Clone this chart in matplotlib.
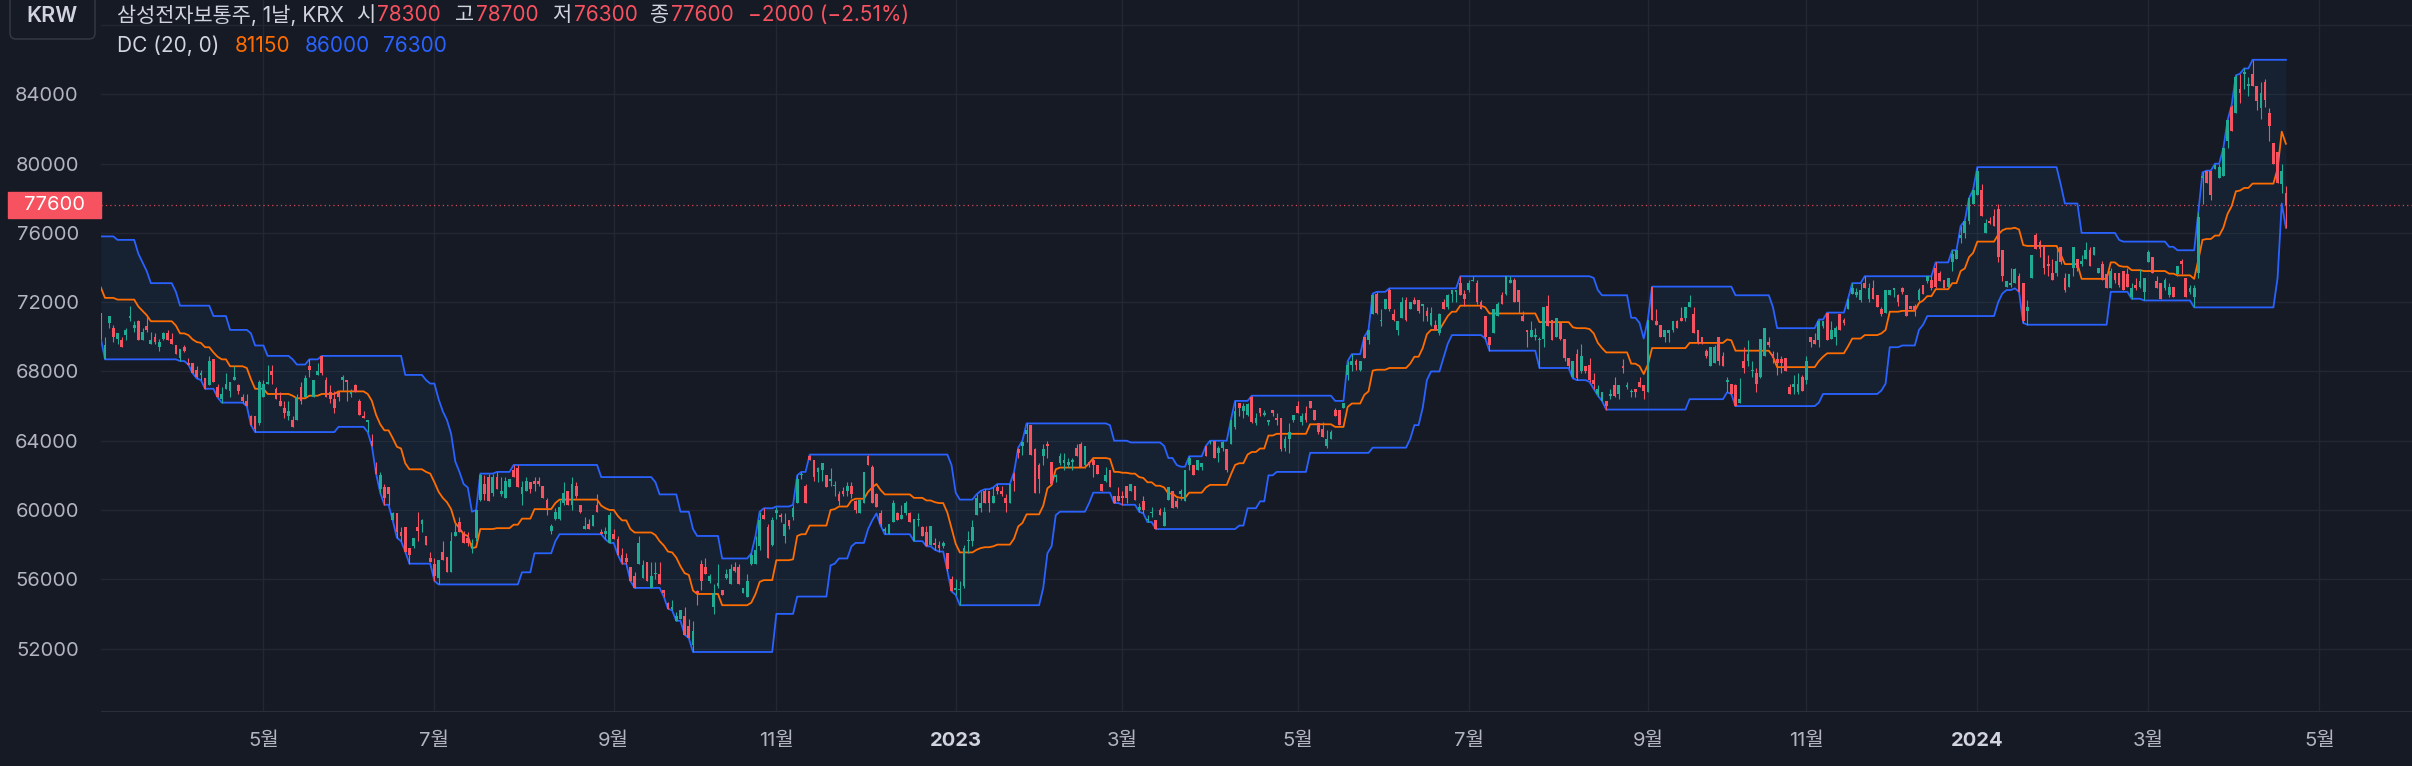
import numpy as np
import pandas as pd
import matplotlib.pyplot as plt
from matplotlib.patches import FancyBboxPatch, Rectangle
from matplotlib.transforms import IdentityTransform, blended_transform_factory

# 삼성전자 일봉 (KRX) — 앞 20개는 화면 밖 (DC 계산용)
N_PRE = 20

krx_holidays = ['2022-03-01', '2022-03-09', '2022-05-05', '2022-06-01', '2022-06-06',
                '2022-08-15', '2022-09-09', '2022-09-12', '2022-10-03', '2022-10-10',
                '2022-12-30', '2023-01-23', '2023-01-24', '2023-03-01', '2023-05-01',
                '2023-05-05', '2023-05-29', '2023-06-06', '2023-08-15', '2023-09-28',
                '2023-09-29', '2023-10-02', '2023-10-03', '2023-10-09', '2023-12-25',
                '2023-12-29', '2024-01-01', '2024-02-09', '2024-02-12', '2024-03-01',
                '2024-04-10', '2024-05-01', '2024-05-06', '2024-05-15']

open_ = [
    73100, 73100, 74300, 75300, 75000, 74200, 73300, 74000, 74900, 74200,
    74000, 73300, 73000, 72300, 72000, 71500, 72300, 72700, 72000, 71400,
    68700, 70800, 70500, 69900, 69800, 70100, 71100, 70500, 70900, 69800,
    70600, 69600, 70000, 69400, 69900, 70200, 69900, 69500, 68800, 69400,
    68500, 68500, 68100, 67800, 67600, 67200, 68700, 67100, 66400, 67000,
    66900, 67500, 67200, 66500, 66300, 65400, 65400, 65000, 66500, 67300,
    68000, 67000, 66300, 65900, 65400, 65200, 65200, 67100, 66500, 68300,
    66500, 67800, 68900, 67500, 66800, 66400, 66800, 67500, 67500, 66700,
    67200, 66300, 65400, 65100, 64000, 62400, 61200, 61300, 61300, 59400,
    59800, 58700, 59000, 57800, 57900, 59000, 59200, 58500, 57200, 56900,
    56100, 57600, 57300, 56400, 58500, 59300, 58600, 58400, 57900, 58400,
    60600, 61500, 61900, 61000, 61900, 60900, 60700, 61300, 62300, 62400,
    60900, 61100, 61600, 61700, 61700, 61400, 60600, 58800, 59500, 59500,
    60400, 61100, 60300, 61400, 60300, 58900, 59200, 59100, 60300, 58700,
    58600, 58100, 58600, 58300, 57400, 57200, 56700, 56200, 56900, 56100,
    57000, 55500, 56300, 56300, 55400, 54600, 54300, 53600, 53700, 53900,
    53300, 52200, 55300, 56900, 56700, 55900, 54400, 55600, 55400, 56100,
    55700, 56700, 56700, 55200, 55000, 56900, 56900, 57900, 59700, 59000,
    58000, 59800, 59700, 58500, 59400, 59600, 60400, 62000, 61400, 63100,
    62900, 62200, 62300, 62000, 61700, 61400, 60900, 61100, 61100, 61400,
    60500, 59800, 60400, 63100, 62500, 60900, 59800, 58800, 58600, 59300,
    59800, 59500, 59800, 59800, 58200, 59400, 59000, 58700, 58000, 58100,
    58000, 57900, 57500, 56000, 55400, 55400, 55600, 58200, 58200, 59700,
    60100, 61100, 61100, 60400, 61300, 61100, 60700, 60400, 62100, 63500,
    63700, 64400, 64900, 63500, 62600, 63100, 63800, 62800, 61900, 62700,
    62700, 62600, 62800, 63600, 63800, 62600, 62800, 62900, 62600, 61500,
    61700, 62300, 60800, 60800, 60800, 61400, 61100, 61400, 60000, 60500,
    59400, 59800, 59400, 60000, 59100, 60600, 61100, 60500, 60900, 60500,
    62600, 62600, 62300, 62500, 63700, 63900, 64000, 63300, 63600, 63500,
    63800, 64800, 66200, 65700, 65500, 66500, 65000, 65900, 65500, 65100,
    65800, 65300, 65300, 63600, 64100, 65200, 66000, 65100, 65600, 66300,
    65800, 65000, 64700, 63700, 64100, 65800, 65800, 65900, 67800, 68400,
    68600, 68100, 70000, 69800, 71300, 72500, 70900, 71600, 72700, 71300,
    70400, 71100, 72100, 71600, 72100, 72100, 71800, 71500, 70700, 70700,
    70200, 72000, 71700, 72500, 72600, 73100, 72500, 72700, 73200, 73100,
    72000, 71200, 70000, 70200, 71200, 72400, 72500, 73100, 73300, 72700,
    71200, 70400, 70000, 70000, 69800, 69900, 71800, 71000, 70000, 70800,
    69900, 68800, 67700, 69000, 68000, 68300, 68400, 67500, 66700, 66300,
    66300, 66600, 67200, 66700, 68300, 67100, 66800, 67000, 67400, 67200,
    66800, 72900, 70900, 70700, 70000, 70200, 70400, 70900, 71100, 71100,
    71700, 71300, 70400, 70000, 69200, 68300, 68500, 70000, 68900, 67400,
    67300, 67200, 66200, 68600, 68600, 68000, 67900, 67700, 68900, 69700,
    69000, 68700, 68700, 68800, 67100, 67100, 66800, 67700, 67500, 70000,
    69800, 69800, 70600, 71400, 69900, 70000, 71300, 71000, 71600, 72500,
    72400, 72100, 73100, 72200, 72800, 72400, 71600, 71400, 72400, 72700,
    72400, 72800, 72400, 71800, 71800, 72100, 73000, 73200, 73300, 74000,
    73700, 73300, 72900, 74300, 74500, 75700, 76000, 76700, 77700, 78200,
    78500, 76000, 76700, 77000, 77400, 75000, 72900, 73000, 73100, 73500,
    73100, 71500, 73400, 75900, 75500, 75300, 74200, 73700, 73700, 75200,
    73400, 72900, 74000, 74500, 74200, 74500, 75000, 74700, 73700, 74200,
    73600, 72800, 73700, 73700, 73800, 73600, 72300, 73000, 72900, 72600,
    74300, 74600, 73200, 73100, 72800, 72400, 72900, 73600, 74400, 73400,
    72600, 72300, 73700, 79200, 79600, 79600, 79700, 79200, 79300, 81300,
    83300, 82900, 84300, 85200, 84500, 85200, 84500, 83200, 84700, 82900,
    81200, 80700, 78800, 78300,
]
high = [
    74000, 74500, 75500, 75800, 75500, 74200, 73900, 74600, 75600, 74800,
    74300, 73800, 73000, 72800, 72900, 72500, 72900, 73100, 72600, 71400,
    70000, 71200, 70700, 70200, 70000, 70500, 71800, 70900, 71000, 70500,
    71200, 70300, 70200, 69900, 70300, 70400, 70200, 69500, 69300, 69500,
    68800, 68500, 68300, 68100, 67600, 68900, 68700, 67300, 67100, 67900,
    67400, 68300, 67300, 66700, 66700, 65500, 65400, 67500, 67500, 68400,
    68400, 67100, 66800, 66300, 66300, 65400, 66700, 67400, 67800, 68700,
    67500, 68500, 68900, 67700, 67200, 66900, 66900, 67800, 67500, 67000,
    67300, 66400, 65700, 65200, 64400, 62800, 62200, 61500, 61300, 59900,
    59800, 59000, 59000, 57800, 58400, 59900, 59500, 58500, 57600, 57200,
    57100, 58200, 57300, 58700, 59300, 59600, 58800, 58700, 58300, 60000,
    62100, 62000, 62100, 62100, 62200, 61900, 61900, 61800, 62600, 62600,
    61700, 61900, 61600, 61900, 61900, 61400, 60700, 59200, 60100, 60600,
    61600, 61100, 61900, 61600, 60300, 59600, 59500, 59700, 60900, 58900,
    59000, 59900, 58900, 58500, 57800, 57500, 56700, 56400, 58500, 57100,
    57000, 57000, 57000, 57000, 55400, 54700, 54800, 54100, 54200, 54400,
    53700, 53600, 55400, 57100, 57200, 56300, 55700, 56900, 55400, 56600,
    56900, 57000, 56900, 55500, 56300, 57500, 58500, 59900, 60100, 59200,
    59600, 60200, 59800, 59800, 59400, 60300, 62000, 62200, 61500, 63200,
    62900, 62500, 62700, 62000, 62400, 61700, 61100, 61300, 61600, 61600,
    60600, 60600, 62200, 63200, 62600, 61000, 60000, 59000, 59200, 60600,
    59900, 60300, 60500, 59900, 59500, 59800, 59100, 59100, 59100, 58400,
    58200, 58200, 57500, 56200, 56000, 55900, 58000, 58800, 59400, 60900,
    61100, 61200, 61100, 61300, 61500, 61400, 60900, 61500, 62200, 63600,
    64000, 65000, 64900, 63600, 62700, 63800, 64000, 62800, 62100, 63300,
    63300, 63000, 63000, 63800, 63900, 63700, 62800, 63000, 62600, 61500,
    62500, 62300, 60800, 61300, 61100, 61400, 61500, 61400, 60400, 60800,
    59700, 60200, 59400, 60100, 60200, 61300, 61100, 60700, 61200, 62300,
    63100, 62600, 62900, 62700, 63700, 64000, 64000, 63700, 64000, 63500,
    65200, 66300, 66200, 66200, 66200, 66600, 65600, 65900, 65800, 65200,
    65800, 65600, 65300, 64300, 65000, 65500, 66300, 65600, 66000, 66300,
    65800, 65000, 65100, 64600, 64600, 65900, 65800, 66200, 68600, 69000,
    68700, 68600, 70000, 70400, 72500, 72600, 71600, 72200, 72800, 71600,
    70900, 72300, 72300, 72000, 72300, 72100, 71900, 71700, 71700, 71000,
    71400, 72200, 72500, 72700, 72700, 73500, 72700, 73300, 73500, 73300,
    72100, 71200, 70000, 71600, 72000, 72600, 73500, 73500, 73400, 72700,
    71500, 70400, 70900, 70500, 70000, 71700, 72400, 71000, 71100, 70800,
    69900, 68800, 68600, 69300, 69600, 68300, 68800, 67900, 67200, 66800,
    66300, 67000, 67700, 67200, 68700, 67400, 67000, 67000, 67700, 67200,
    71000, 72900, 71600, 70700, 70400, 70400, 70900, 71000, 71700, 71700,
    72400, 71700, 70400, 70000, 69300, 69400, 69500, 70000, 69100, 67700,
    67300, 67300, 67600, 69400, 69800, 68600, 68200, 69900, 70500, 70000,
    69200, 69100, 68900, 68800, 67300, 67800, 67900, 67800, 68900, 70000,
    70200, 71000, 70900, 71400, 70900, 70600, 71300, 71100, 72200, 73100,
    72800, 73100, 73500, 73100, 73300, 72400, 71700, 72700, 72700, 72800,
    72500, 72900, 72400, 71800, 71900, 72800, 73000, 73500, 73500, 74300,
    73800, 73300, 73400, 75000, 75000, 76400, 76700, 78000, 78500, 79800,
    78800, 76800, 76900, 77400, 77700, 75000, 73200, 74000, 74000, 73700,
    73100, 72100, 74700, 76000, 75600, 75300, 74700, 74500, 75100, 75200,
    73700, 73600, 75200, 74500, 74700, 75500, 75200, 75200, 74000, 74400,
    73600, 74000, 73700, 73700, 73800, 74000, 73100, 73400, 73900, 73400,
    75000, 74600, 73500, 73100, 73400, 73100, 72900, 74100, 74500, 73400,
    73000, 73000, 77200, 79500, 79600, 79600, 80000, 80000, 80900, 82500,
    83400, 85100, 85200, 85500, 85000, 86000, 84500, 84700, 84900, 83200,
    81200, 80700, 80000, 78700,
]
low = [
    72700, 72800, 74000, 74800, 74600, 73000, 73000, 73700, 74000, 73900,
    73300, 72900, 72200, 71200, 71600, 71200, 72000, 72000, 71700, 69900,
    68700, 70500, 69700, 69600, 69400, 69800, 70900, 70300, 69800, 69800,
    70300, 69600, 69600, 69200, 69800, 69800, 69600, 69000, 68600, 69100,
    68400, 67900, 67600, 67500, 67000, 67200, 67400, 66500, 66200, 67000,
    66500, 67500, 66700, 66200, 66000, 64900, 64500, 64900, 66500, 67300,
    67300, 66400, 66000, 65300, 65200, 64800, 65200, 66100, 66500, 67700,
    66500, 67800, 67800, 66500, 66200, 65600, 66300, 66900, 66300, 66500,
    66800, 65500, 65300, 64500, 63700, 62100, 61000, 60300, 60300, 59400,
    58400, 58200, 57600, 56900, 57800, 58200, 58700, 58000, 57000, 55900,
    55700, 57100, 56400, 56400, 58500, 58700, 58100, 57900, 57500, 58200,
    60500, 60600, 60500, 60800, 61200, 60800, 60700, 61300, 61900, 61300,
    60300, 61100, 61000, 61100, 61400, 60700, 59700, 58600, 59400, 59400,
    60300, 60300, 60000, 60700, 59800, 58900, 58900, 59100, 59900, 58600,
    58300, 58100, 58300, 57400, 56900, 56900, 55900, 55500, 56900, 56100,
    55900, 55500, 56000, 55700, 55000, 54300, 54200, 53600, 53700, 52800,
    52600, 51800, 54500, 55400, 56300, 55800, 54000, 55500, 55100, 56000,
    55700, 56400, 55700, 55200, 55000, 56800, 56900, 57700, 59500, 57200,
    57900, 59500, 59300, 58100, 58900, 59400, 60400, 61800, 60400, 62900,
    61700, 61600, 61700, 61300, 61400, 60800, 60300, 60800, 60800, 60700,
    59800, 59800, 60400, 62600, 60400, 60200, 59100, 58600, 58600, 59300,
    59400, 59500, 59700, 59300, 58200, 59100, 58500, 57900, 58000, 57700,
    57600, 57800, 56500, 55300, 55100, 54500, 55500, 57500, 57900, 59700,
    59900, 60400, 59900, 60400, 60900, 60800, 59900, 60400, 61100, 63000,
    63200, 63900, 63200, 61000, 61000, 62600, 63000, 61500, 61600, 62600,
    62300, 62500, 62300, 63100, 62500, 62400, 62500, 61900, 62100, 61100,
    61600, 61300, 60400, 60500, 60300, 60400, 61100, 60600, 59900, 59800,
    59300, 59600, 58900, 59700, 59100, 60600, 60100, 60100, 60600, 60500,
    62300, 62000, 62300, 62300, 63100, 63800, 63000, 62800, 63400, 62200,
    63800, 64700, 65400, 65300, 65400, 65000, 64900, 65400, 65400, 64900,
    65400, 64900, 63400, 63400, 63300, 65100, 65600, 64900, 65100, 65900,
    65200, 64400, 64200, 63600, 64100, 65400, 64900, 65900, 67500, 68000,
    68100, 68000, 68800, 69600, 71300, 71300, 70600, 71600, 71500, 70900,
    70100, 71100, 70900, 71600, 71900, 71400, 70900, 70900, 70600, 70400,
    70100, 71600, 71600, 72000, 72000, 72400, 71800, 72600, 73200, 71900,
    71600, 69900, 69200, 70200, 71200, 71900, 72400, 73100, 72000, 71400,
    70900, 69400, 70000, 69800, 68200, 69400, 70600, 69800, 70000, 69800,
    68600, 68200, 67600, 67500, 67900, 67900, 67400, 67000, 66600, 66300,
    65800, 66400, 66500, 66400, 67900, 67000, 66500, 66500, 67100, 66400,
    66800, 71000, 70700, 70000, 69700, 69700, 70300, 70500, 70900, 70900,
    71700, 70200, 69600, 69600, 68800, 68300, 68500, 68400, 68300, 66800,
    66700, 66000, 66200, 67900, 68300, 67700, 66800, 67600, 68900, 69400,
    68500, 67800, 67900, 68000, 66700, 66700, 66700, 66900, 67300, 69400,
    69600, 69400, 70500, 69800, 69900, 69500, 70400, 70700, 71600, 72500,
    72300, 72000, 72800, 72000, 72200, 71700, 71200, 71400, 72400, 72300,
    71800, 72500, 71200, 71600, 71200, 72000, 72500, 73100, 72700, 72800,
    73200, 72800, 72900, 73800, 74500, 75400, 75700, 76500, 77700, 78200,
    77000, 76000, 76500, 76400, 74300, 73200, 72900, 72900, 73100, 72600,
    70800, 70700, 73400, 75100, 74600, 73600, 73500, 73300, 73500, 74200,
    72600, 72900, 73500, 73800, 74100, 74500, 74100, 74700, 73700, 73300,
    72800, 72800, 73100, 72900, 72700, 72900, 72200, 72700, 72800, 72100,
    74300, 73700, 72800, 72200, 72700, 72300, 72300, 73500, 73600, 72300,
    72500, 71700, 73400, 77700, 78900, 77900, 79700, 79200, 79300, 80900,
    81900, 82900, 83500, 84300, 83900, 84500, 83100, 82600, 83300, 81300,
    80000, 78900, 78300, 76300,
]
close = [
    73000, 74300, 75100, 75500, 74900, 73100, 73700, 74000, 74200, 74300,
    74000, 73000, 72600, 71500, 71800, 72100, 72200, 72500, 72100, 70600,
    69500, 71200, 70000, 70200, 69400, 70400, 71200, 70700, 69800, 70300,
    70400, 69800, 69700, 69700, 70200, 69800, 69600, 69000, 69300, 69200,
    68400, 67900, 67700, 67900, 67000, 68600, 67400, 66500, 66700, 67300,
    67400, 67700, 66900, 66300, 66000, 64900, 64700, 67400, 67300, 67400,
    67800, 66400, 66000, 65600, 65700, 64800, 66500, 66300, 67600, 68100,
    67500, 68000, 67900, 66500, 66400, 65900, 66500, 67700, 67400, 66800,
    66800, 65500, 65300, 65200, 63700, 62100, 62000, 60700, 60900, 59800,
    58700, 58500, 57600, 57400, 58400, 58800, 59400, 58000, 57000, 56200,
    57100, 57100, 56400, 58200, 58700, 58700, 58100, 58100, 58100, 60000,
    62000, 60900, 60500, 61900, 61200, 61100, 61700, 61800, 61900, 61300,
    61300, 61700, 61200, 61500, 61500, 60700, 60100, 59100, 59900, 60200,
    61000, 60300, 61500, 60800, 59900, 59100, 58900, 59700, 59900, 58600,
    58800, 59700, 58300, 57400, 57000, 57000, 55900, 55500, 58100, 56800,
    55900, 56200, 56300, 55700, 55200, 54300, 54400, 53900, 54200, 52800,
    52600, 53000, 55200, 55900, 56300, 56200, 55200, 55800, 55100, 56300,
    56600, 56500, 55700, 55500, 55900, 57400, 57700, 59400, 59500, 57200,
    59400, 60000, 59600, 59200, 59100, 60100, 61800, 62000, 60400, 62900,
    61900, 62400, 62700, 61300, 61800, 61400, 60500, 60900, 61400, 60900,
    60000, 60600, 62200, 62600, 60400, 60200, 59200, 58900, 59200, 60400,
    59400, 59700, 60400, 59300, 59500, 59500, 58500, 57900, 59100, 58000,
    57800, 58100, 56600, 55300, 55500, 55400, 57800, 58200, 59000, 60700,
    60400, 60400, 60400, 60800, 61100, 60900, 60400, 61500, 61700, 63300,
    63900, 64600, 63200, 61000, 61800, 63500, 63700, 61500, 62000, 63100,
    62900, 62800, 62900, 63100, 62500, 63700, 62600, 62600, 62100, 61100,
    62000, 61300, 60400, 60500, 60700, 60700, 61500, 60600, 60200, 60000,
    59500, 59900, 58900, 59700, 59900, 61300, 60100, 60200, 61100, 62300,
    63000, 62000, 62900, 62700, 63100, 64000, 63000, 63600, 63900, 62300,
    65200, 65700, 65900, 66000, 66100, 65100, 65300, 65600, 65600, 65200,
    65600, 65200, 63500, 64100, 64500, 65500, 65600, 65400, 65200, 65900,
    65200, 64500, 64200, 64100, 64500, 65400, 64900, 66200, 68400, 68600,
    68400, 68600, 68800, 70400, 72400, 71400, 71000, 72200, 71600, 71000,
    70900, 72000, 71000, 72000, 71900, 71500, 71900, 71200, 71400, 70400,
    71300, 71600, 72400, 72700, 72700, 72400, 72200, 73100, 73300, 72000,
    71600, 70000, 69500, 71600, 71900, 71900, 73500, 73300, 72000, 72000,
    70900, 70300, 70400, 70100, 69900, 71700, 70600, 69800, 71100, 69900,
    68800, 68300, 68600, 67600, 68900, 68000, 67500, 67300, 67000, 66800,
    66000, 66700, 66600, 67200, 68200, 67200, 66900, 66800, 67100, 66900,
    71000, 71000, 70700, 70000, 70400, 70400, 70900, 70500, 70900, 71700,
    72000, 70200, 69700, 69700, 68900, 69400, 69400, 68600, 68300, 67500,
    66700, 66000, 66400, 68200, 69000, 68100, 67300, 69900, 70500, 69500,
    68800, 68500, 68500, 68000, 66700, 67300, 67300, 66900, 68600, 69700,
    69600, 70900, 70900, 69800, 70400, 70500, 70400, 70800, 72200, 72800,
    72600, 72700, 72800, 72800, 72200, 71700, 71300, 72700, 72700, 72800,
    72000, 72600, 71200, 71600, 71500, 72700, 72500, 73500, 72800, 72900,
    73200, 72800, 73400, 74800, 75000, 75900, 76700, 78000, 78500, 79600,
    77000, 76600, 76600, 76400, 74600, 73500, 73200, 73100, 73900, 72600,
    70900, 71700, 74700, 75100, 75100, 74000, 74100, 73300, 74400, 74300,
    72700, 73600, 75200, 74000, 74400, 75000, 74100, 75200, 74000, 73300,
    72800, 73800, 73300, 73000, 72700, 72900, 72800, 72800, 73200, 73400,
    74900, 73700, 72800, 72200, 73300, 72900, 72300, 74100, 74200, 72300,
    72800, 72800, 76900, 79300, 78900, 78200, 79900, 79800, 80900, 82500,
    81900, 85000, 84100, 85300, 84600, 84500, 83600, 84100, 83700, 82200,
    80000, 78900, 79600, 77600,
]

y_ticks = list(range(52000, 88001, 4000))
last_price = 77600

# 색상 (TradingView 다크)
BG = '#161A25'
GRID = '#242733'
UP = '#22AB94'
DOWN = '#F7525F'
DC_BAND = '#2962FF'
DC_MID = '#FF6D00'
TXT = '#B2B5BE'
TXT_HI = '#D1D4DC'

plt.rcParams['font.family'] = ['Inter', 'Noto Sans CJK KR', 'DejaVu Sans']

W, H = 2412, 766
o = np.array(open_, dtype=float)
h = np.array(high, dtype=float)
l = np.array(low, dtype=float)
c = np.array(close, dtype=float)
n = len(c)
x = np.arange(n) - N_PRE

dates = pd.bdate_range('2022-02-07', '2024-05-31', freq='C', holidays=krx_holidays)

fig = plt.figure(figsize=(W / 100, H / 100), dpi=100, facecolor=BG)
ax = fig.add_axes([101 / W, (H - 711) / H, (W - 101) / W, 711 / H])
ax.set_facecolor(BG)

# --- Donchian Channel (20) ---
dc_up = pd.Series(h).rolling(20).max().values
dc_lo = pd.Series(l).rolling(20).min().values
dc_md = (dc_up + dc_lo) / 2
ax.fill_between(x, dc_lo, dc_up, color='#2196F3', alpha=0.06, lw=0, zorder=1)
ax.plot(x, dc_up, color=DC_BAND, lw=1.3, zorder=2)
ax.plot(x, dc_lo, color=DC_BAND, lw=1.3, zorder=2)
ax.plot(x, dc_md, color=DC_MID, lw=1.3, zorder=2)

# --- 캔들 ---
colors = np.where(c >= o, UP, DOWN)
ax.vlines(x, l, h, colors=colors, lw=0.8, zorder=3)
ax.bar(x, np.maximum(np.abs(c - o), 60), bottom=np.minimum(o, c), width=0.66,
       color=colors, lw=0, zorder=4)

ax.axhline(last_price, color=DOWN, lw=0.9, ls=(0, (1, 2.5)), alpha=0.85, zorder=5)

ax.set_xlim(-0.96, (W - 105) / 4.17)
ax.set_ylim(48391, 89453)

# --- 월 눈금 ---
pos, labs = [], []
for (yy, mm), idx in pd.Series(np.arange(len(dates)), index=dates).groupby([dates.year, dates.month]):
    if mm % 2 == 1:
        p = idx.iloc[0] - N_PRE
        if 0 < p < (W - 105) / 4.17:
            pos.append(p)
            labs.append(str(yy) if mm == 1 else f'{mm}월')
ax.set_xticks(pos)
ax.set_xticklabels(labs)
for t in ax.get_xticklabels():
    if t.get_text().isdigit():
        t.set_fontweight('bold')
        t.set_color(TXT_HI)
    else:
        t.set_color(TXT)

ax.set_yticks(y_ticks)
ax.set_yticklabels([f'{v}' if v <= 84000 else '' for v in y_ticks], color=TXT)
ax.tick_params(axis='both', length=0, labelsize=14.5)
ax.tick_params(axis='y', pad=16)
ax.tick_params(axis='x', pad=15)
ax.grid(True, color=GRID, lw=1)
ax.set_axisbelow(True)
for s in ['top', 'left', 'right']:
    ax.spines[s].set_visible(False)
ax.spines['bottom'].set_color('#2A2E39')

# 현재가 라벨
tr = blended_transform_factory(ax.transAxes, ax.transData)
px = (ax.get_ylim()[1] - ax.get_ylim()[0]) / 711
ax.add_patch(Rectangle((-93 / (W - 101), last_price - 13 * px), 93 / (W - 101), 26 * px,
                       transform=tr, color=DOWN, clip_on=False, zorder=6))
ax.text(-46.5 / (W - 101), last_price, f'{last_price}', transform=tr, ha='center',
        va='center', color='white', fontsize=14.5, zorder=7)

# --- 상단 범례 ---
idt = IdentityTransform()
fig.patches.append(FancyBboxPatch((10, H - 39), 85, 50, boxstyle='round,pad=0,rounding_size=6',
                                  transform=idt, fc=BG, ec='#363A45', lw=1))
fig.text(52, H - 16, 'KRW', transform=idt, ha='center', va='center', color=TXT_HI,
         fontsize=15.5, fontweight='semibold')

renderer = fig.canvas.get_renderer()


def text_row(x0, y0, parts):
    xc = x0
    for s, col, gap in parts:
        t = fig.text(xc, H - y0, s, transform=idt, ha='left', va='center', color=col, fontsize=15)
        xc += t.get_window_extent(renderer).width + gap


text_row(117, 15, [('삼성전자보통주, 1날, KRX', TXT_HI, 12), ('시', TXT_HI, 2), ('78300', DOWN, 14),
                   ('고', TXT_HI, 2), ('78700', DOWN, 13), ('저', TXT_HI, 3), ('76300', DOWN, 12),
                   ('종', TXT_HI, 2), ('77600', DOWN, 14), ('−2000 (−2.51%)', DOWN, 0)])
text_row(117, 46, [('DC (20, 0)', TXT_HI, 15), ('81150', DC_MID, 15), ('86000', DC_BAND, 13),
                   ('76300', DC_BAND, 0)])

fig.savefig('out.png', dpi=100, facecolor=BG)
